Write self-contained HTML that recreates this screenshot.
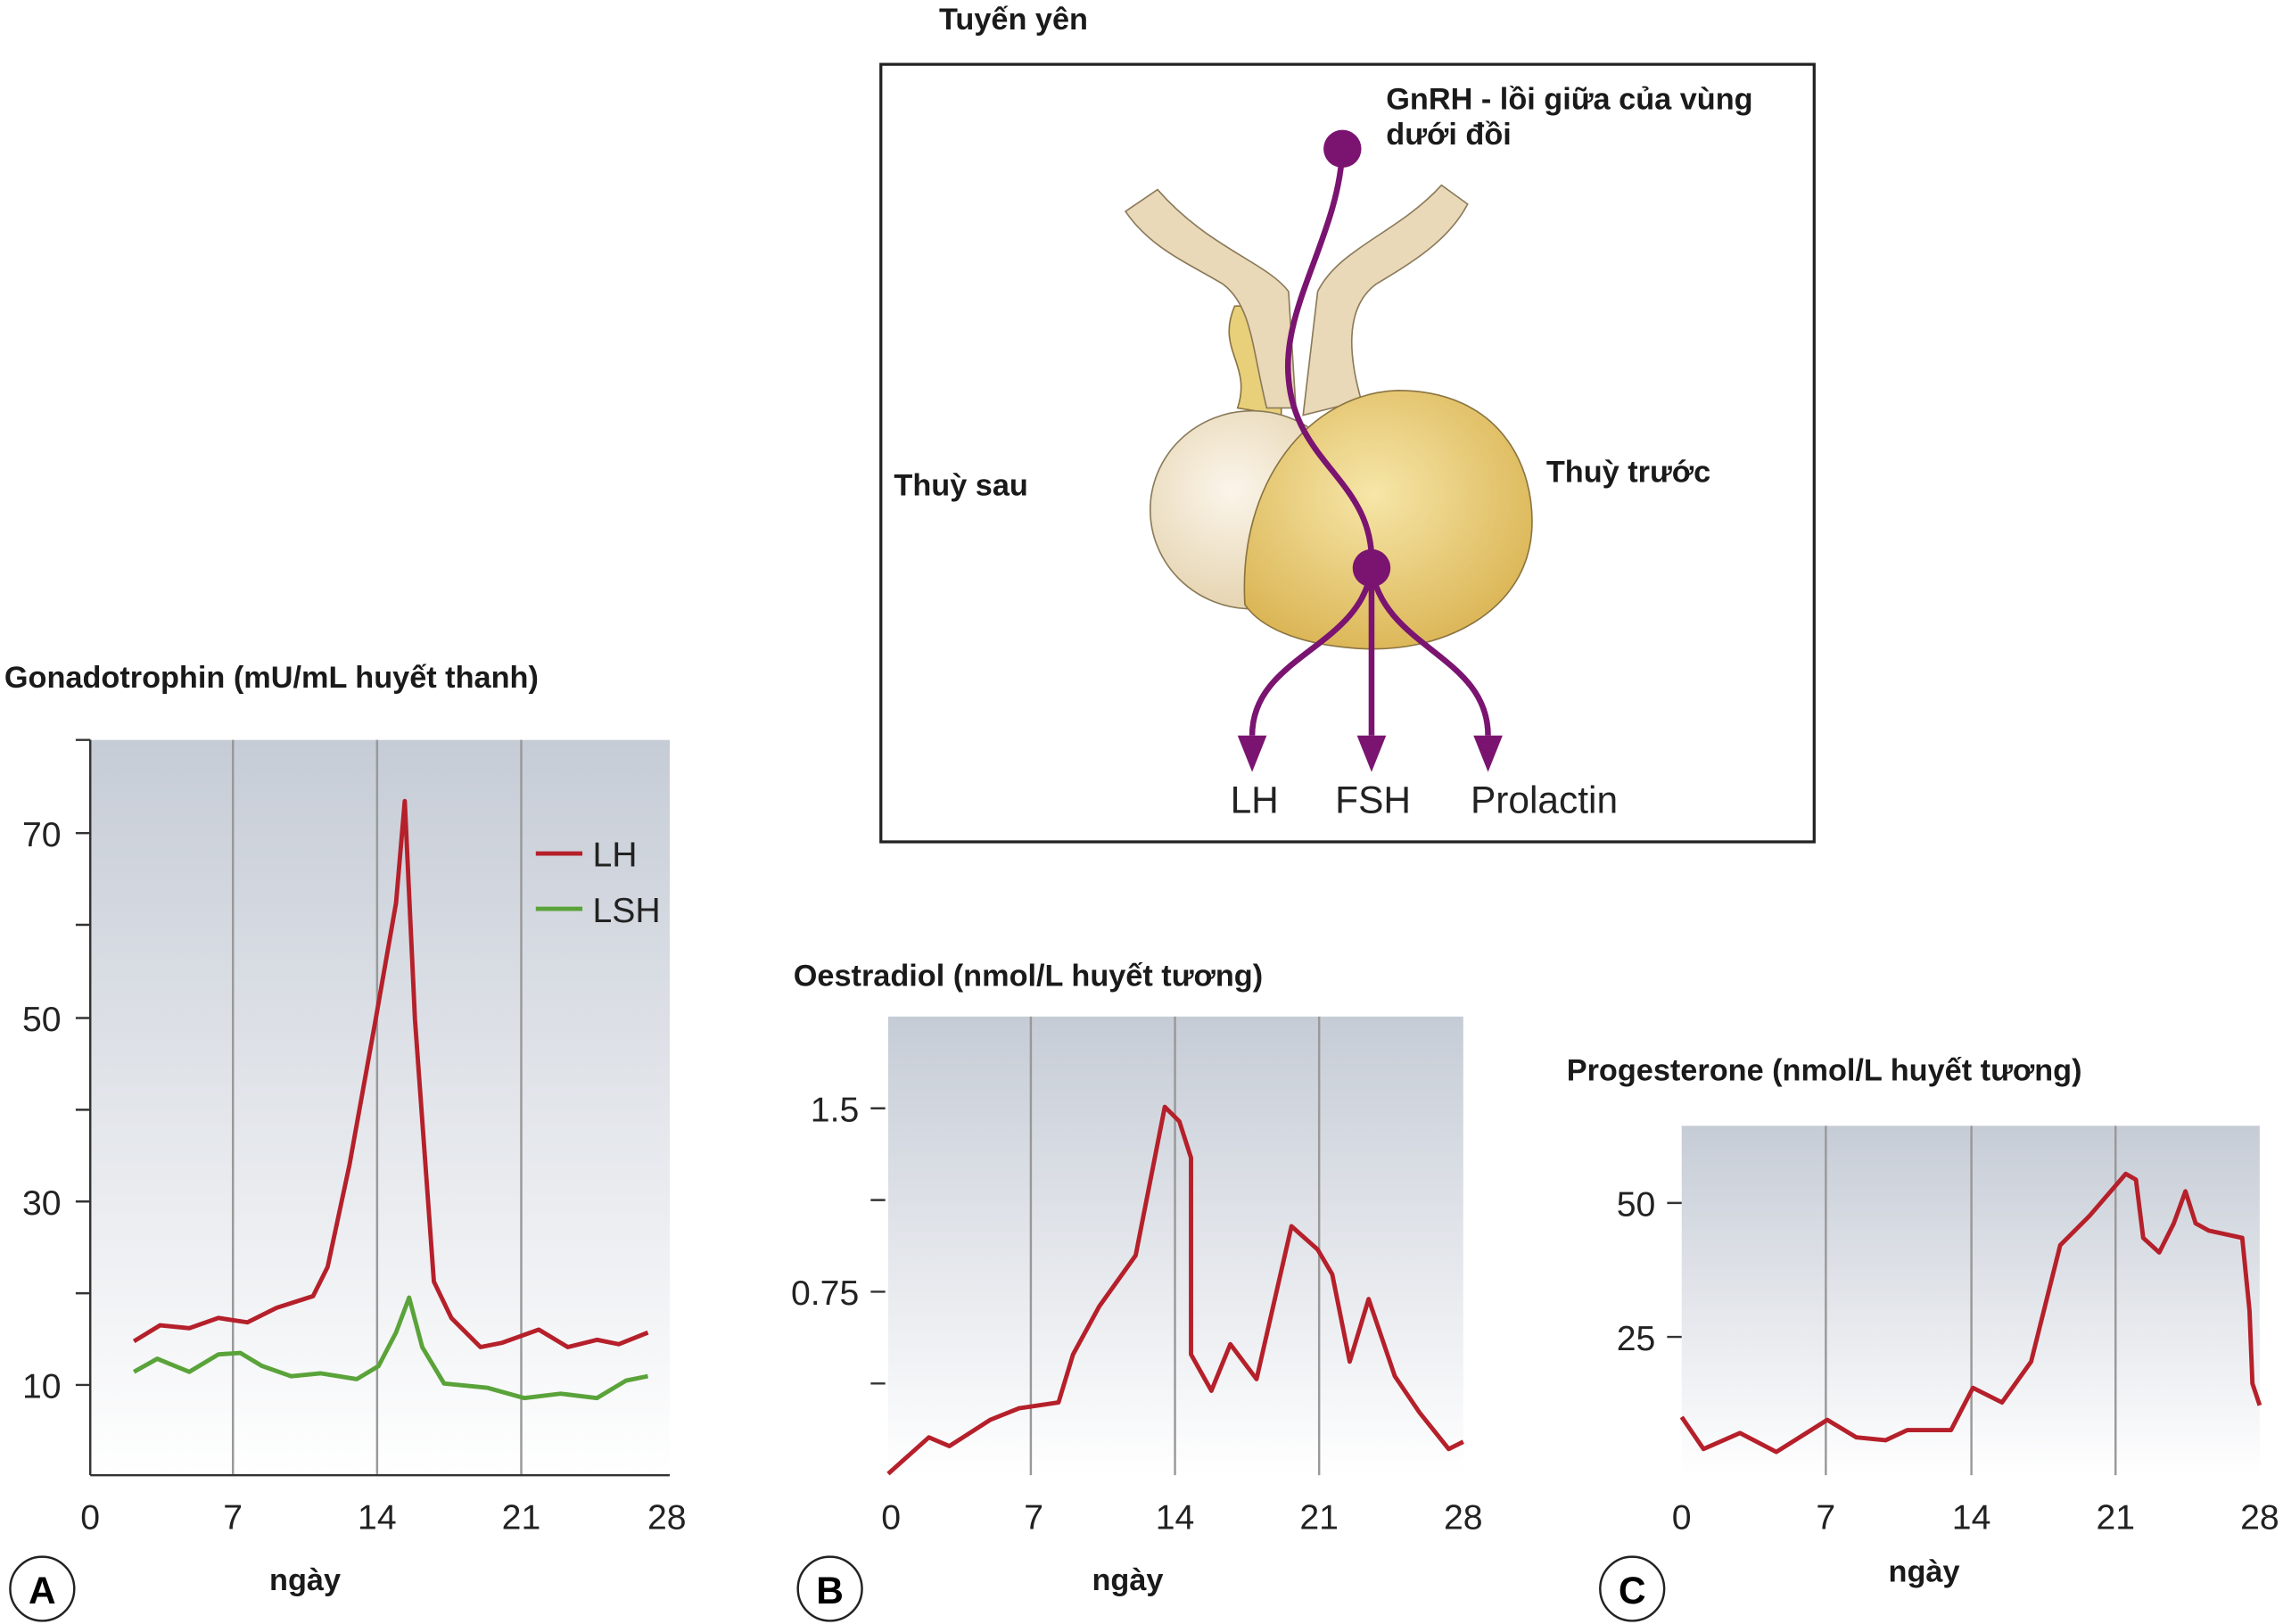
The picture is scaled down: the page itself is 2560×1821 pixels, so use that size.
<!DOCTYPE html>
<html><head><meta charset="utf-8"><style>
html,body{margin:0;padding:0;background:#fff;width:2560px;height:1821px;overflow:hidden}
svg{display:block}
text{font-family:"Liberation Sans",sans-serif}
.b{font-weight:bold;font-size:21px;fill:#1a1a1a}
.t{font-size:24px;fill:#222}
</style></head><body>
<svg width="2560" height="1821" viewBox="0 0 1568 1115" xmlns="http://www.w3.org/2000/svg">
<defs>
<linearGradient id="g" x1="0" y1="0" x2="0" y2="1"><stop offset="0" stop-color="#c6ccd6"/><stop offset="1" stop-color="#ffffff"/></linearGradient>
<radialGradient id="pl" cx="0.4" cy="0.4" r="0.7"><stop offset="0" stop-color="#fbf5ea"/><stop offset="1" stop-color="#e2cfa8"/></radialGradient>
<radialGradient id="an" cx="0.45" cy="0.4" r="0.7"><stop offset="0" stop-color="#f6e6a8"/><stop offset="1" stop-color="#d8b04c"/></radialGradient>
</defs>
<!-- Chart A -->
<rect x="62" y="508" width="398" height="505" fill="url(#g)"/>
<g stroke="#999" stroke-width="1.5"><line x1="160" y1="508" x2="160" y2="1013"/><line x1="259" y1="508" x2="259" y2="1013"/><line x1="358" y1="508" x2="358" y2="1013"/></g>
<g stroke="#333" stroke-width="1.5"><line x1="62" y1="508" x2="62" y2="1013"/><line x1="62" y1="1013" x2="460" y2="1013"/>
<line x1="52" y1="508" x2="62" y2="508"/><line x1="52" y1="572" x2="62" y2="572"/><line x1="52" y1="635" x2="62" y2="635"/><line x1="52" y1="699" x2="62" y2="699"/><line x1="52" y1="762" x2="62" y2="762"/><line x1="52" y1="825" x2="62" y2="825"/><line x1="52" y1="888" x2="62" y2="888"/><line x1="52" y1="951" x2="62" y2="951"/></g>
<g class="t" text-anchor="end"><text x="42" y="581">70</text><text x="42" y="708">50</text><text x="42" y="834">30</text><text x="42" y="960">10</text></g>
<g class="t" text-anchor="middle"><text x="62" y="1050">0</text><text x="160" y="1050">7</text><text x="259" y="1050">14</text><text x="358" y="1050">21</text><text x="458" y="1050">28</text></g>
<polyline fill="none" stroke="#b5202a" stroke-width="3" stroke-linejoin="round" points="92,921 110,910 130,912 150,905 170,908 190,898 215,890 225,870 240,800 258,700 272,620 278,550 285,700 298,880 310,905 330,925 345,922 370,913 390,925 410,920 425,923 445,915"/>
<polyline fill="none" stroke="#5aa33a" stroke-width="3" stroke-linejoin="round" points="92,942 108,933 130,942 150,930 165,929 180,938 200,945 220,943 245,947 260,938 272,915 281,891 290,925 305,950 335,953 360,960 385,957 410,960 430,948 445,945"/>
<line x1="368" y1="586" x2="400" y2="586" stroke="#b5202a" stroke-width="3"/><text x="407" y="595" class="t">LH</text>
<line x1="368" y1="624" x2="400" y2="624" stroke="#5aa33a" stroke-width="3"/><text x="407" y="633" class="t">LSH</text>
<text x="3" y="472" class="b">Gonadotrophin (mU/mL huyết thanh)</text>
<circle cx="29" cy="1091" r="22" fill="#fff" stroke="#222" stroke-width="1.5"/><text x="29" y="1101" text-anchor="middle" font-size="26" font-weight="bold">A</text>
<text x="185" y="1092" class="b">ngày</text>
<!-- Chart B -->
<rect x="610" y="698" width="395" height="315" fill="url(#g)"/>
<g stroke="#999" stroke-width="1.5"><line x1="708" y1="698" x2="708" y2="1013"/><line x1="807" y1="698" x2="807" y2="1013"/><line x1="906" y1="698" x2="906" y2="1013"/></g>
<g stroke="#333" stroke-width="1.5"><line x1="598" y1="761" x2="608" y2="761"/><line x1="598" y1="824" x2="608" y2="824"/><line x1="598" y1="887" x2="608" y2="887"/><line x1="598" y1="950" x2="608" y2="950"/></g>
<g class="t" text-anchor="end"><text x="590" y="770">1.5</text><text x="590" y="896">0.75</text></g>
<g class="t" text-anchor="middle"><text x="612" y="1050">0</text><text x="710" y="1050">7</text><text x="807" y="1050">14</text><text x="906" y="1050">21</text><text x="1005" y="1050">28</text></g>
<polyline fill="none" stroke="#b5202a" stroke-width="3" stroke-linejoin="round" points="610,1012 638,987 652,993 680,975 700,967 727,963 737,930 755,897 780,862 800,760 810,770 818,795 818,930 832,955 845,923 863,947 887,842 905,858 915,875 927,935 940,892 958,945 975,970 995,995 1005,990"/>
<text x="545" y="677" class="b">Oestradiol (nmol/L huyết tương)</text>
<circle cx="570" cy="1091" r="22" fill="#fff" stroke="#222" stroke-width="1.5"/><text x="570" y="1101" text-anchor="middle" font-size="26" font-weight="bold">B</text>
<text x="750" y="1092" class="b">ngày</text>
<!-- Chart C -->
<rect x="1155" y="773" width="397" height="240" fill="url(#g)"/>
<g stroke="#999" stroke-width="1.5"><line x1="1254" y1="773" x2="1254" y2="1013"/><line x1="1354" y1="773" x2="1354" y2="1013"/><line x1="1453" y1="773" x2="1453" y2="1013"/></g>
<g stroke="#333" stroke-width="1.5"><line x1="1145" y1="826" x2="1155" y2="826"/><line x1="1145" y1="918" x2="1155" y2="918"/></g>
<g class="t" text-anchor="end"><text x="1137" y="835">50</text><text x="1137" y="927">25</text></g>
<g class="t" text-anchor="middle"><text x="1155" y="1050">0</text><text x="1254" y="1050">7</text><text x="1354" y="1050">14</text><text x="1453" y="1050">21</text><text x="1552" y="1050">28</text></g>
<polyline fill="none" stroke="#b5202a" stroke-width="3" stroke-linejoin="round" points="1155,973 1170,995 1195,984 1220,997 1255,975 1275,987 1295,989 1310,982 1340,982 1355,953 1375,963 1395,935 1415,855 1435,835 1460,806 1467,810 1472,850 1483,860 1493,840 1501,818 1508,840 1517,845 1540,850 1545,900 1547,950 1552,965"/>
<text x="1076" y="742" class="b">Progesterone (nmol/L huyết tương)</text>
<circle cx="1121" cy="1091" r="22" fill="#fff" stroke="#222" stroke-width="1.5"/><text x="1121" y="1101" text-anchor="middle" font-size="26" font-weight="bold">C</text>
<text x="1297" y="1086" class="b">ngày</text>
<!-- Diagram -->
<text x="645" y="20" class="b">Tuyến yên</text>
<rect x="605" y="44" width="641" height="534" fill="#fff" stroke="#222" stroke-width="2"/>
<path d="M848,210 C835,240 860,250 850,280 L880,285 L880,210 Z" fill="#e8cf7a" stroke="#8a7440" stroke-width="1"/>
<path d="M773,145 L795,130 C830,170 870,180 885,200 L890,280 L870,280 C860,240 860,210 840,195 C815,180 790,170 773,145 Z" fill="#ead9b8" stroke="#8a7a5a" stroke-width="1"/>
<path d="M1008,140 L990,127 C960,160 920,170 905,200 L895,285 L935,275 C925,240 925,210 945,195 C970,180 995,165 1008,140 Z" fill="#ead9b8" stroke="#8a7a5a" stroke-width="1"/>
<ellipse cx="860" cy="350" rx="70" ry="68" fill="url(#pl)" stroke="#8a7a5a" stroke-width="1"/>
<path d="M855,415 C850,330 900,270 960,268 C1030,268 1055,320 1052,365 C1048,420 990,450 930,445 C890,442 865,430 855,415 Z" fill="url(#an)" stroke="#8a7440" stroke-width="1"/>
<g fill="none" stroke="#7a1470" stroke-width="4">
<path d="M922,102 C920,160 880,210 885,260 C890,320 945,330 942,390"/>
<path d="M942,390 C935,445 860,450 860,505"/>
<path d="M942,390 L942,505"/>
<path d="M942,390 C950,445 1022,450 1022,505"/>
</g>
<g fill="#7a1470"><circle cx="922" cy="102" r="13"/><circle cx="942" cy="390" r="13"/>
<polygon points="850,505 870,505 860,530"/><polygon points="932,505 952,505 942,530"/><polygon points="1012,505 1032,505 1022,530"/></g>
<text x="952" y="75" class="b">GnRH - lồi giữa của vùng</text>
<text x="952" y="99" class="b">dưới đồi</text>
<text x="614" y="340" class="b">Thuỳ sau</text>
<text x="1062" y="331" class="b">Thuỳ trước</text>
<g font-size="26" fill="#222"><text x="845" y="558">LH</text><text x="917" y="558">FSH</text><text x="1010" y="558">Prolactin</text></g>
</svg>
</body></html>
